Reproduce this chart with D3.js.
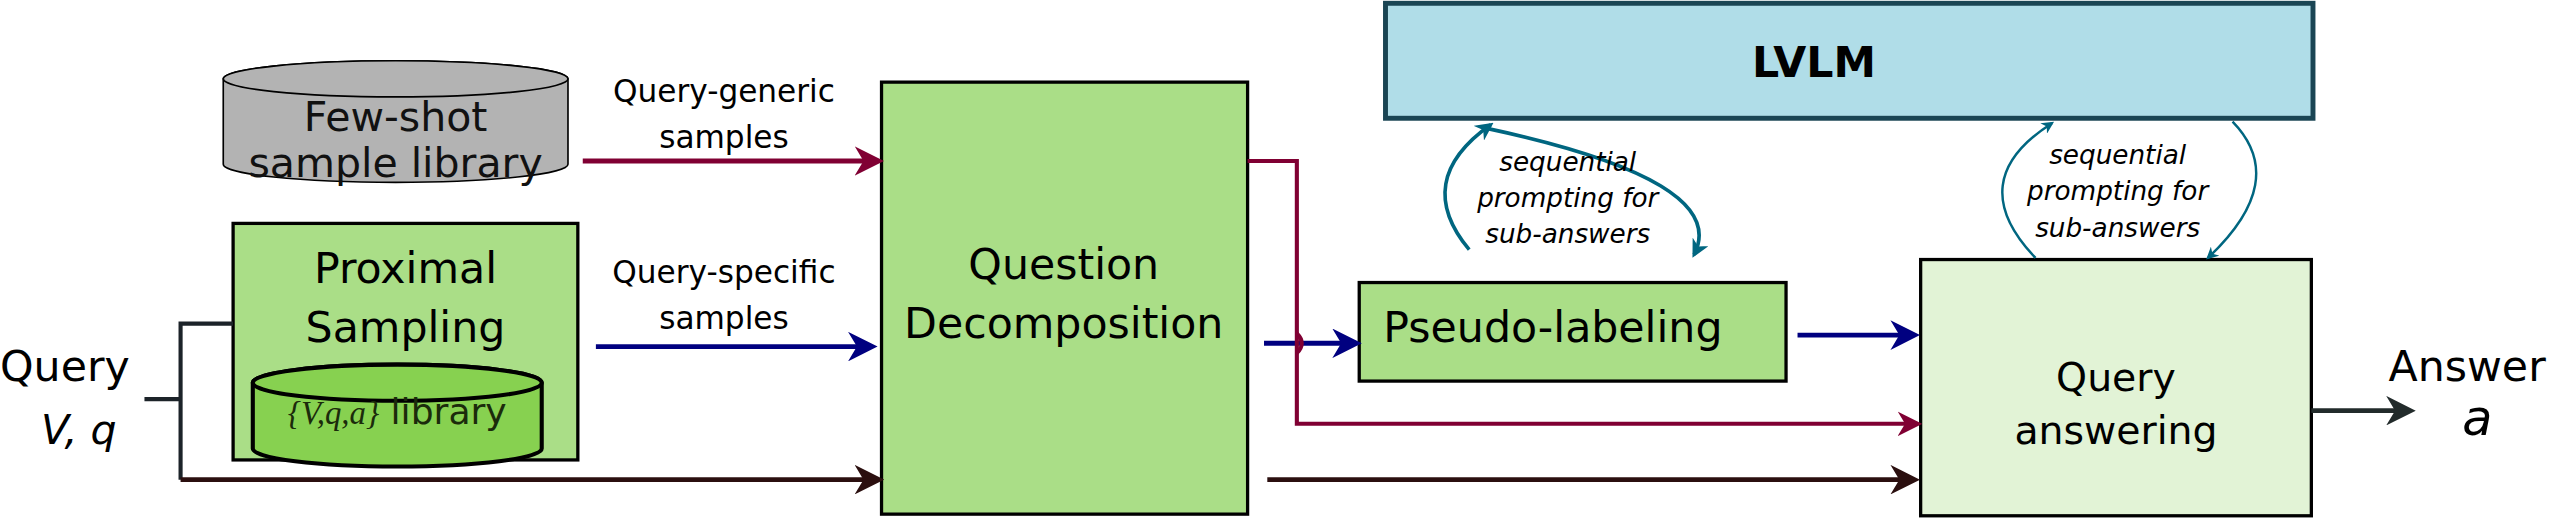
<!DOCTYPE html>
<html lang="en">
<head>
<meta charset="UTF-8">
<title>Pipeline</title>
<script src="https://d3js.org/d3.v7.min.js"></script>
<style>
  body { margin: 0; background: #fff; }
  text { font-family: "DejaVu Sans", sans-serif; }
</style>
</head>
<body>
<svg id="fig" width="2574" height="524" viewBox="0 0 1568 319" preserveAspectRatio="none"></svg>
<script>
// boxes: label lines, box geometry in diagram units
const boxNames = ["Question Decomposition", "Proximal Sampling", "LVLM", "Pseudo-labeling", "Query answering"];
const boxRects = [[537, 50, 223, 263], [142, 136, 210, 144], [844, 2, 565, 70], [828, 172, 260, 60], [1170, 158, 238, 156]];
const boxFills = ["#aade87", "#aade87", "#b0dde8", "#aade87", "#e2f3d6"];
const boxStrokes = ["#000", "#000", "#1a4554", "#000", "#000"];

// arrows: [points], colour
const arrowPaths = [
  [[355, 98], [535, 98]],
  [[363, 211], [531, 211]],
  [[110, 292], [535, 292]],
  [[770, 209], [826, 209]],
  [[1095, 204], [1166, 204]],
  [[772, 292], [1166, 292]],
  [[760, 98], [790, 98], [790, 258], [1168, 258]],
  [[1408, 250], [1468, 250]]
];
const arrowColors = ["#800033", "#000080", "#2b0f0f", "#000080", "#000080", "#2b0f0f", "#800033", "#222b2b"];

const svg = d3.select("#fig");
const line = d3.line();

svg.append("defs").selectAll("marker")
  .data(d3.range(arrowColors.length))
  .join("marker")
  .attr("id", i => "ah" + i)
  .attr("viewBox", "0 0 10 10").attr("refX", 8).attr("refY", 5)
  .attr("markerWidth", 6).attr("markerHeight", 6).attr("orient", "auto")
  .attr("markerUnits", "strokeWidth")
  .append("path").attr("d", "M0,0 L10,5 L0,10 L3,5 Z")
  .attr("fill", i => arrowColors[i]);

// few-shot cylinder
function cylinder(g, x, y, w, h, ry, fill, sw) {
  g.append("path")
    .attr("d", `M${x},${y} L${x},${y + h} A${w / 2},${ry} 0 0 0 ${x + w},${y + h} L${x + w},${y} A${w / 2},${ry} 0 0 0 ${x},${y} Z`)
    .attr("fill", fill).attr("stroke", "#000").attr("stroke-width", sw);
  g.append("ellipse").attr("cx", x + w / 2).attr("cy", y).attr("rx", w / 2).attr("ry", ry)
    .attr("fill", fill).attr("stroke", "#000").attr("stroke-width", sw);
}
cylinder(svg, 136, 48, 210, 52, 11, "#b3b3b3", 1);
svg.append("text").attr("x", 241).attr("y", 80).attr("text-anchor", "middle")
  .attr("font-size", 25).attr("fill", "#111").text("Few-shot");
svg.append("text").attr("x", 241).attr("y", 108).attr("text-anchor", "middle")
  .attr("font-size", 25).attr("fill", "#111").text("sample library");

// boxes
svg.selectAll("rect.box").data(boxNames).join("rect").attr("class", "box")
  .attr("x", (d, i) => boxRects[i][0]).attr("y", (d, i) => boxRects[i][1])
  .attr("width", (d, i) => boxRects[i][2]).attr("height", (d, i) => boxRects[i][3])
  .attr("fill", (d, i) => boxFills[i]).attr("stroke", (d, i) => boxStrokes[i])
  .attr("stroke-width", (d, i) => i === 2 ? 3 : 2);

// inner library cylinder
cylinder(svg, 154, 233, 176, 40, 11, "#87d150", 2.5);
svg.append("text").attr("x", 242).attr("y", 258).attr("text-anchor", "middle")
  .attr("font-size", 22).attr("fill", "#1b2b0b")
  .html('<tspan font-family="Liberation Serif" font-style="italic" font-size="20">{V,q,a}</tspan> library');

// box labels
const labels = [
  [648, 170, 26, ["Question", "Decomposition"], 36],
  [247, 172, 26, ["Proximal", "Sampling"], 36],
  [1105, 47, 26, ["LVLM"], 0],
  [946, 208, 26, ["Pseudo-labeling"], 0],
  [1289, 238, 24, ["Query", "answering"], 32]
];
labels.forEach(l => {
  l[3].forEach((s, k) => {
    svg.append("text").attr("x", l[0]).attr("y", l[1] + k * l[4]).attr("text-anchor", "middle")
      .attr("font-size", l[2]).attr("font-weight", s === "LVLM" ? "bold" : "normal")
      .attr("fill", "#000").text(s);
  });
});

// edge labels
[["Query-generic", 441, 62], ["samples", 441, 90], ["Query-specific", 441, 172], ["samples", 441, 200]]
  .forEach(t => svg.append("text").attr("x", t[1]).attr("y", t[2]).attr("text-anchor", "middle")
    .attr("font-size", 19).text(t[0]));

// query bracket
svg.append("path").attr("d", "M142,197 L110,197 L110,292 M88,243 L110,243")
  .attr("fill", "none").attr("stroke", "#1c2329").attr("stroke-width", 2.5);

// arrows
svg.selectAll("path.arr").data(arrowPaths).join("path").attr("class", "arr")
  .attr("d", d => line(d)).attr("fill", "none")
  .attr("stroke", (d, i) => arrowColors[i]).attr("stroke-width", (d, i) => i === 6 ? 2.5 : 3)
  .attr("marker-end", (d, i) => `url(#ah${i})`);
// small hop where red line crosses blue
svg.append("path").attr("d", "M790,203 Q796,209 790,215").attr("fill", "none")
  .attr("stroke", "#800033").attr("stroke-width", 2.5);

// query / answer text
svg.append("text").attr("x", 0).attr("y", 232).attr("font-size", 26).text("Query");
svg.append("text").attr("x", 25).attr("y", 270).attr("font-size", 25)
  .attr("font-family", "Liberation Serif").attr("font-style", "italic").text("V, q");
svg.append("text").attr("x", 1455).attr("y", 232).attr("font-size", 26).text("Answer");
svg.append("text").attr("x", 1500).attr("y", 265).attr("font-size", 30)
  .attr("font-family", "Liberation Serif").attr("font-style", "italic").text("a");

// sequential prompting loops
const loops = [
  { cx: 955, up: [[895, 152], [860, 110], [908, 76]], down: [[905, 78], [1055, 110], [1032, 155]] },
  { cx: 1290, up: [[1240, 157], [1195, 110], [1250, 75]], down: [[1360, 74], [1395, 110], [1345, 157]] }
];
svg.select("defs").append("marker").attr("id", "teal")
  .attr("viewBox", "0 0 10 10").attr("refX", 8).attr("refY", 5)
  .attr("markerWidth", 5).attr("markerHeight", 5).attr("orient", "auto")
  .append("path").attr("d", "M0,0 L10,5 L0,10 L3,5 Z").attr("fill", "#006680");
loops.forEach((lp, j) => {
  [lp.up, lp.down].forEach(p => {
    svg.append("path").attr("d", `M${p[0]} Q${p[1]} ${p[2]}`).attr("fill", "none")
      .attr("stroke", "#006680").attr("stroke-width", j === 0 ? 2.2 : 1.5)
      .attr("marker-end", "url(#teal)");
  });
  ["sequential", "prompting for", "sub-answers"].forEach((s, k) => {
    svg.append("text").attr("x", lp.cx).attr("y", (j === 0 ? 104 : 100) + k * 22)
      .attr("text-anchor", "middle").attr("font-size", 16).attr("font-style", "italic").text(s);
  });
});
</script>
</body>
</html>
